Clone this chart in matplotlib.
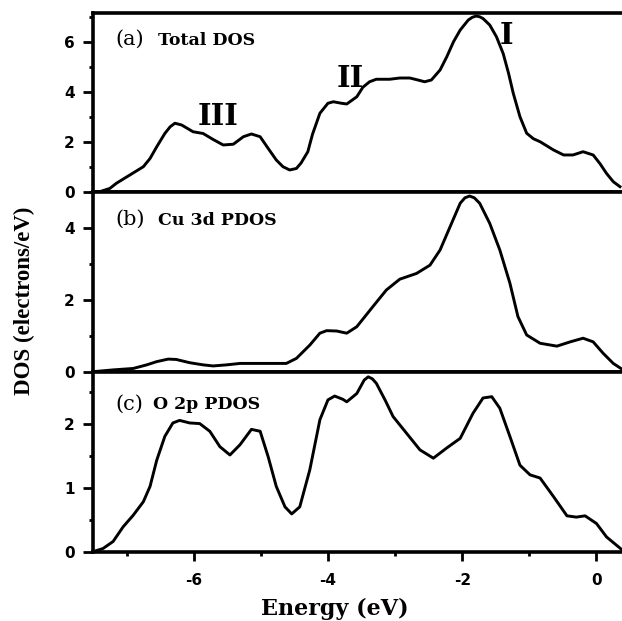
import matplotlib
matplotlib.use("Agg")
import matplotlib.pyplot as plt
from matplotlib.ticker import MultipleLocator

plt.rcParams["axes.unicode_minus"] = False

# ---- data (energy in eV, DOS in electrons/eV) ----
total_E = [-7.50, -7.40, -7.25, -7.15, -6.95, -6.75, -6.65, -6.55, -6.43, -6.35,
           -6.28, -6.18, -6.01, -5.86, -5.71, -5.56, -5.41, -5.26, -5.14, -5.01,
           -4.89, -4.77, -4.67, -4.57, -4.47, -4.40, -4.30, -4.23, -4.12, -4.00,
           -3.92, -3.80, -3.72, -3.57, -3.48, -3.38, -3.28, -3.08, -2.93, -2.78,
           -2.66, -2.56, -2.46, -2.33, -2.23, -2.13, -2.03, -1.91, -1.85, -1.79,
           -1.74, -1.69, -1.59, -1.49, -1.39, -1.31, -1.24, -1.14, -1.04, -0.94,
           -0.84, -0.64, -0.49, -0.35, -0.20, -0.05, 0.05, 0.15, 0.25, 0.35]
total_dos = [0.00, 0.00, 0.13, 0.34, 0.67, 1.00, 1.33, 1.80, 2.33, 2.60,
             2.74, 2.67, 2.40, 2.33, 2.09, 1.87, 1.90, 2.20, 2.31, 2.20,
             1.73, 1.27, 1.00, 0.87, 0.93, 1.15, 1.60, 2.30, 3.14, 3.54,
             3.60, 3.54, 3.51, 3.80, 4.18, 4.40, 4.50, 4.50, 4.55, 4.55,
             4.47, 4.40, 4.47, 4.87, 5.40, 6.00, 6.47, 6.87, 6.98, 7.03,
             7.00, 6.93, 6.67, 6.20, 5.53, 4.74, 3.94, 3.00, 2.34, 2.12,
             2.00, 1.67, 1.47, 1.47, 1.60, 1.47, 1.13, 0.73, 0.40, 0.20]

cu_E = [-7.50, -7.20, -6.90, -6.70, -6.55, -6.38, -6.26, -6.06, -5.86, -5.71,
        -5.51, -5.31, -4.92, -4.62, -4.47, -4.27, -4.12, -4.02, -3.87, -3.72,
        -3.57, -3.33, -3.13, -2.93, -2.68, -2.48, -2.33, -2.18, -2.03, -1.96,
        -1.89, -1.82, -1.74, -1.59, -1.44, -1.29, -1.17, -1.04, -0.84, -0.59,
        -0.39, -0.20, -0.05, 0.10, 0.25, 0.38]
cu_dos = [0.00, 0.05, 0.09, 0.19, 0.28, 0.35, 0.34, 0.25, 0.19, 0.16,
          0.19, 0.23, 0.23, 0.23, 0.37, 0.74, 1.07, 1.14, 1.13, 1.07,
          1.25, 1.81, 2.27, 2.57, 2.73, 2.96, 3.38, 4.03, 4.68, 4.83,
          4.88, 4.83, 4.68, 4.12, 3.38, 2.46, 1.53, 1.02, 0.79, 0.71,
          0.83, 0.93, 0.83, 0.51, 0.23, 0.07]

o_E = [-7.50, -7.35, -7.20, -7.05, -6.90, -6.75, -6.65, -6.55, -6.43, -6.31,
       -6.21, -6.06, -5.91, -5.76, -5.61, -5.46, -5.31, -5.14, -5.01, -4.89,
       -4.77, -4.64, -4.54, -4.42, -4.27, -4.12, -4.00, -3.90, -3.78, -3.72,
       -3.57, -3.46, -3.40, -3.34, -3.28, -3.15, -3.03, -2.83, -2.63, -2.43,
       -2.23, -2.03, -1.84, -1.69, -1.56, -1.44, -1.29, -1.14, -0.99, -0.84,
       -0.64, -0.44, -0.30, -0.17, 0.00, 0.15, 0.38]
o_dos = [0.00, 0.05, 0.16, 0.39, 0.57, 0.78, 1.02, 1.43, 1.80, 2.01,
         2.05, 2.01, 2.00, 1.88, 1.64, 1.51, 1.67, 1.91, 1.88, 1.48,
         1.02, 0.70, 0.59, 0.70, 1.28, 2.06, 2.37, 2.43, 2.38, 2.34,
         2.47, 2.68, 2.73, 2.70, 2.63, 2.37, 2.11, 1.85, 1.59, 1.46,
         1.62, 1.77, 2.16, 2.40, 2.42, 2.24, 1.80, 1.35, 1.20, 1.15,
         0.86, 0.56, 0.54, 0.56, 0.44, 0.23, 0.03]

panel_tags = ["(a)", "(b)", "(c)"]
panel_names = ["Total DOS", "Cu 3d PDOS", "O 2p PDOS"]
region_labels = ["III", "II", "I"]


def style_axis(ax, ymax, ymajor, yminor, bottom):
    ax.set_xlim(-7.5, 0.38)
    ax.set_ylim(0, ymax)
    ax.xaxis.set_major_locator(MultipleLocator(2))
    ax.xaxis.set_minor_locator(MultipleLocator(1))
    ax.yaxis.set_major_locator(MultipleLocator(ymajor))
    ax.yaxis.set_minor_locator(MultipleLocator(yminor))
    for side in ["left", "top", "bottom"]:
        ax.spines[side].set_linewidth(2.6)
    ax.spines["right"].set_visible(False)
    ax.tick_params(axis="y", which="major", direction="out", length=7, width=2, pad=6)
    ax.tick_params(axis="y", which="minor", direction="out", length=3, width=2)
    ax.tick_params(axis="x", which="major", direction="out", length=6.5, width=2, pad=9)
    ax.tick_params(axis="x", which="minor", direction="out", length=3, width=2)
    ax.tick_params(top=False, right=False, which="both")
    if not bottom:
        ax.tick_params(axis="x", which="both", bottom=False, labelbottom=False)
    for lab in ax.get_yticklabels() + ax.get_xticklabels():
        lab.set_fontweight("bold")
        lab.set_fontsize(11)
        lab.set_family("DejaVu Sans")


fig = plt.figure(figsize=(6.22, 6.21), dpi=100)

ax_a = fig.add_axes([0.1495, 0.6913, 0.8505, 0.2873])
ax_b = fig.add_axes([0.1495, 0.40145, 0.8505, 0.28985])
ax_c = fig.add_axes([0.1495, 0.11159, 0.8505, 0.28985])

curves = [(ax_a, total_E, total_dos), (ax_b, cu_E, cu_dos), (ax_c, o_E, o_dos)]
for ax, e, d in curves:
    ax.plot(e, d, color="black", linewidth=2.1, solid_joinstyle="round")

style_axis(ax_a, 7.14, 2, 1, False)
style_axis(ax_b, 5.0, 2, 1, False)
style_axis(ax_c, 2.81, 1, 0.5, True)

# panel labels
tag_y = [0.822, 0.815, 0.791]
name_x = [0.123, 0.123, 0.113]
for ax, tag, name, ty, nx in zip([ax_a, ax_b, ax_c], panel_tags, panel_names, tag_y, name_x):
    ax.text(0.042, ty, tag, transform=ax.transAxes, family="DejaVu Serif",
            fontsize=15, va="baseline", ha="left")
    ax.text(nx, ty, name, transform=ax.transAxes, family="DejaVu Serif",
            fontweight="bold", fontsize=12.5, va="baseline", ha="left")

# region markers in the total DOS
reg_pos = [(0.236, 0.374), (0.486, 0.587), (0.781, 0.828)]
for lab, (rx, ry) in zip(region_labels, reg_pos):
    ax_a.text(rx, ry, lab, transform=ax_a.transAxes, family="DejaVu Serif",
              fontweight="bold", fontsize=21, va="baseline", ha="center")

fig.text(0.539, 0.0097, "Energy (eV)", family="DejaVu Serif", fontweight="bold",
         fontsize=16, ha="center", va="baseline")
fig.text(0.039, 1 - 301 / 621, "DOS (electrons/eV)", family="Liberation Serif",
         fontweight="bold", fontsize=16.5, rotation=90, ha="center", va="center")

fig.savefig("out.png", dpi=100)
